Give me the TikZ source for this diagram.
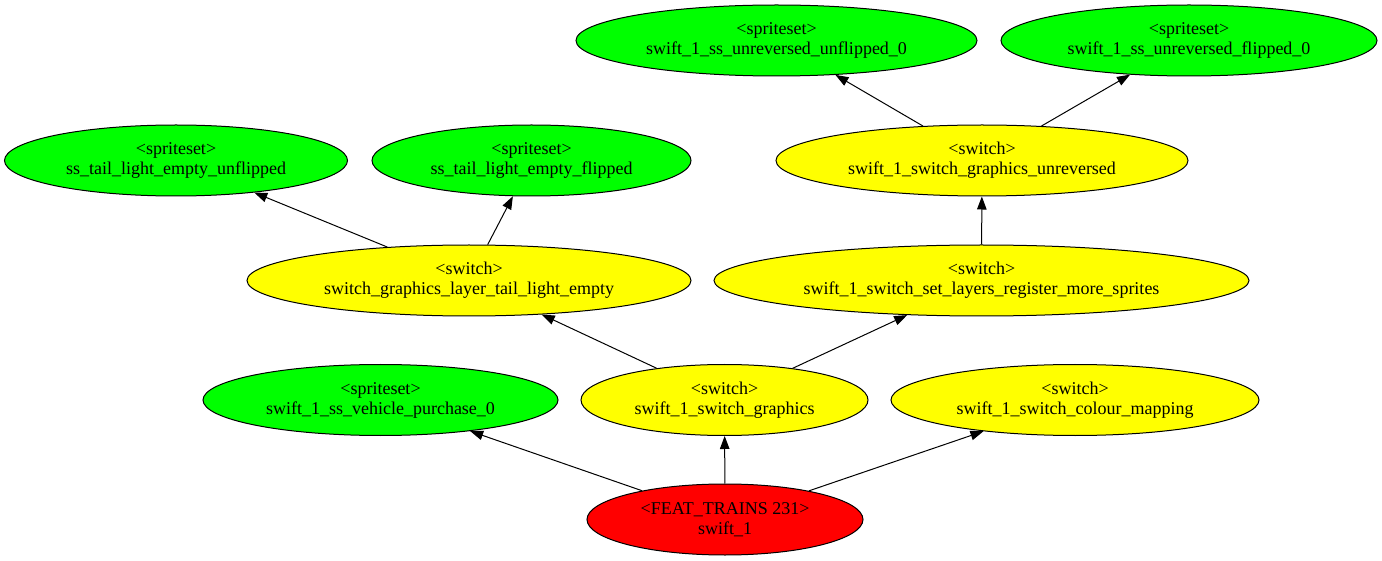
\documentclass[tikz,border=0pt]{standalone}
\usepackage{fontspec}
\setmainfont{Liberation Serif}
\usetikzlibrary{shapes.geometric,arrows.meta}
\definecolor{gvgreen}{HTML}{00FF00}
\definecolor{gvyellow}{HTML}{FFFF00}
\definecolor{gvred}{HTML}{FF0000}
\tikzset{
  gv/.style={ellipse,draw=black,line width=1pt,inner sep=0pt,align=center,
    minimum height=71pt,font=\fontsize{18}{20}\selectfont},
  green/.style={gv,fill=gvgreen},
  yellow/.style={gv,fill=gvyellow},
  red/.style={gv,fill=gvred},
  edge/.style={draw=black,line width=1pt,-{Triangle[length=13pt,width=9.5pt]}}
}
\begin{document}
\begin{tikzpicture}[x=1pt,y=-1pt]
\useasboundingbox (0,0) rectangle (1382,561);
\node[green,minimum width=401pt] (uu) at (776.5,40.5) {<spriteset>\\swift\_1\_ss\_unreversed\_unflipped\_0};
\node[green,minimum width=376pt] (uf) at (1189,40.5) {<spriteset>\\swift\_1\_ss\_unreversed\_flipped\_0};
\node[green,minimum width=343pt] (tu) at (176,160.5) {<spriteset>\\ss\_tail\_light\_empty\_unflipped};
\node[green,minimum width=319pt] (tf) at (531.5,160.5) {<spriteset>\\ss\_tail\_light\_empty\_flipped};
\node[yellow,minimum width=412pt] (gu) at (982,160.5) {<switch>\\swift\_1\_switch\_graphics\_unreversed};
\node[yellow,minimum width=444pt] (lt) at (469,280.5) {<switch>\\switch\_graphics\_layer\_tail\_light\_empty};
\node[yellow,minimum width=535pt] (sl) at (981.5,280.5) {<switch>\\swift\_1\_switch\_set\_layers\_register\_more\_sprites};
\node[green,minimum width=355pt] (vp) at (380.5,400) {<spriteset>\\swift\_1\_ss\_vehicle\_purchase\_0};
\node[yellow,minimum width=287pt] (sg) at (724.5,400) {<switch>\\swift\_1\_switch\_graphics};
\node[yellow,minimum width=368pt] (cm) at (1075,400) {<switch>\\swift\_1\_switch\_colour\_mapping};
\node[red,minimum width=276pt] (ft) at (725,519.5) {<FEAT\_TRAINS 231>\\swift\_1};
\draw[edge] (ft) -- (vp);
\draw[edge] (ft) -- (sg);
\draw[edge] (ft) -- (cm);
\draw[edge] (sg) -- (lt);
\draw[edge] (sg) -- (sl);
\draw[edge] (lt) -- (tu);
\draw[edge] (lt) -- (tf);
\draw[edge] (sl) -- (gu);
\draw[edge] (gu) -- (uu);
\draw[edge] (gu) -- (uf);
\end{tikzpicture}
\end{document}
